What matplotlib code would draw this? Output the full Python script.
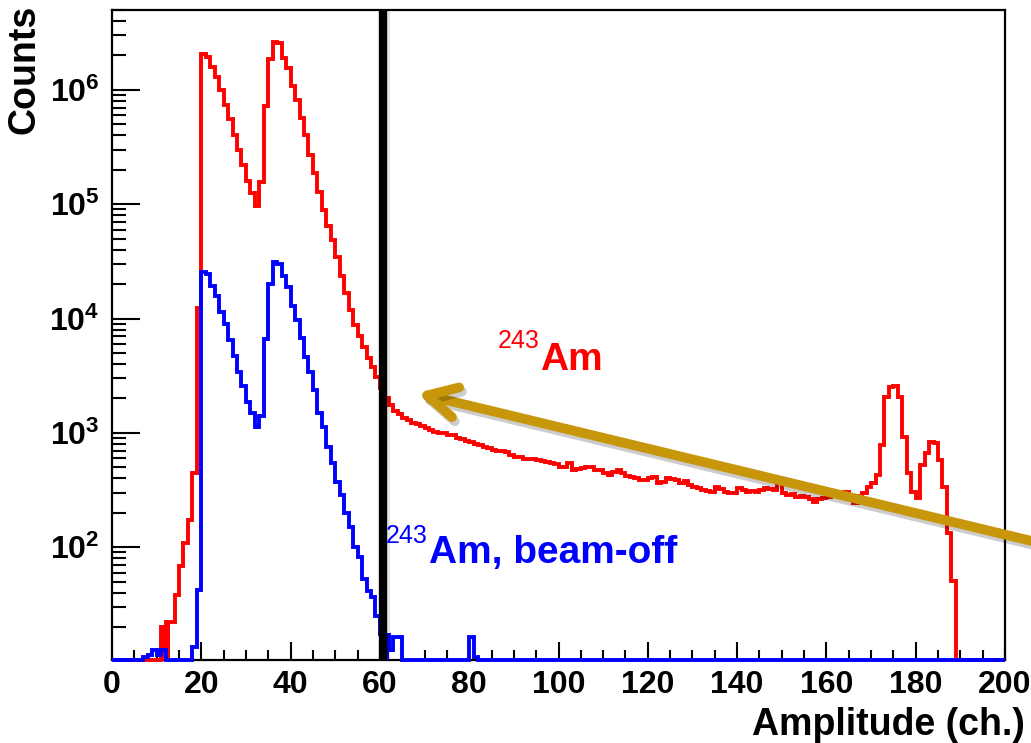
# Am-243 amplitude spectrum, beam-on vs beam-off, log scale

import matplotlib
matplotlib.use("Agg")
import matplotlib.pyplot as plt
import matplotlib.patheffects as pe
from matplotlib.ticker import MultipleLocator, LogLocator, FuncFormatter, NullFormatter
import numpy as np

plt.rcParams['font.family'] = ['Liberation Sans', 'DejaVu Sans']
plt.rcParams['font.weight'] = 'bold'
plt.rcParams['mathtext.fontset'] = 'custom'
plt.rcParams['mathtext.rm'] = 'Liberation Sans:bold'
plt.rcParams['mathtext.it'] = 'Liberation Sans:bold'
plt.rcParams['mathtext.bf'] = 'Liberation Sans:bold'

n_bins = 200
edges = np.arange(n_bins + 1)  # 1 channel per bin

# 243Am spectrum, channels 11..188
am_first = 11
am_counts = [
    20, 22, 22, 38, 69, 108, 172, 446, 12400,                       # 11-19
    2.05e6, 1.95e6, 1.6e6, 1.29e6, 1.0e6, 7.4e5, 5.6e5, 4.0e5, 3.0e5, 2.2e5,   # 20-29
    1.6e5, 1.25e5, 9.7e4, 1.57e5, 7.2e5, 1.88e6, 2.65e6, 2.55e6, 1.89e6, 1.55e6,  # 30-39
    1.08e6, 8.2e5, 5.65e5, 4.0e5, 2.7e5, 1.87e5, 1.29e5, 8.9e4, 6.4e4, 4.9e4,  # 40-49
    3.43e4, 2.36e4, 1.66e4, 1.19e4, 8.8e3, 7.1e3, 5.66e3, 4.5e3, 3.8e3, 3.1e3,  # 50-59
    2450, 2000, 1750, 1550, 1450, 1350, 1300, 1230, 1190, 1150,      # 60-69
    1100, 1060, 1020, 1000, 1000, 960, 950, 900, 890, 850,           # 70-79
    835, 800, 790, 755, 740, 706, 700, 690, 683, 640,                # 80-89
    617, 610, 590, 586, 590, 575, 570, 560, 540, 535,                # 90-99
    505, 505, 545, 472, 480, 490, 505, 500, 472, 470,                # 100-109
    445, 430, 455, 470, 445, 420, 412, 405, 385, 385,                # 110-119
    400, 412, 363, 375, 400, 395, 390, 363, 378, 350,                # 120-129
    337, 330, 315, 310, 305, 337, 320, 305, 300, 295,                # 130-139
    327, 315, 305, 310, 305, 315, 327, 320, 315, 361,                # 140-149
    300, 285, 290, 276, 280, 276, 265, 249, 263, 270,                # 150-159
    276, 280, 285, 295, 305, 270, 242, 280, 295, 337,                # 160-169
    361, 427, 782, 2070, 2500, 2570, 2070, 922, 441, 305,            # 170-179
    267, 523, 661, 835, 807, 577, 337, 132, 51,                      # 180-188
]
am_fill = [11, 12]

# beam-off spectrum, channels 7..81
off_first = 7
off_counts = [
    11, 11.5, 12.5, 11.5, 12.5, 0, 0, 0, 0, 0, 0, 13.4, 42,          # 7-19
    2.57e4, 2.47e4, 1.94e4, 1.58e4, 1.15e4, 9.0e3, 6.5e3, 4.7e3, 3.4e3, 2.55e3,  # 20-29
    1.85e3, 1.5e3, 1.13e3, 1.39e3, 6.6e3, 2.0e4, 3.15e4, 3.0e4, 2.35e4, 1.9e4,  # 30-39
    1.3e4, 9.7e3, 6.7e3, 4.6e3, 3.4e3, 2.37e3, 1.48e3, 1.13e3, 755, 540,  # 40-49
    373, 285, 197, 151, 101, 82, 53, 41, 37, 25,                     # 50-59
    17.5, 17, 12.5, 16.4, 16.4, 0, 0, 0, 0, 0,                       # 60-69
    0, 0, 0, 0, 0, 0, 0, 0, 0, 0,                                    # 70-79
    16.4, 11,                                                        # 80-81
]
off_fill = [60, 61]

cut_channel = 60.7
y_min, y_max = 10.3, 5e6


def full_spectrum(first, counts):
    h = np.zeros(n_bins)
    h[first:first + len(counts)] = counts
    return h


am = full_spectrum(am_first, am_counts)
off = full_spectrum(off_first, off_counts)

fig = plt.figure(figsize=(10.31, 7.43), dpi=100)
ax = fig.add_axes([112 / 1031, 1 - 660 / 743, (1005 - 112) / 1031, (660 - 10) / 743])

ax.set_yscale('log')
ax.set_xlim(0, 200)
ax.set_ylim(y_min, y_max)

lw = 2.8
ax.stairs(np.maximum(am, y_min), edges, baseline=None, color='#ff0000', lw=lw, clip_on=False, zorder=3)
for ch in am_fill:
    ax.stairs([am[ch]], edges[ch:ch + 2], baseline=y_min, fill=True, color='#ff0000', zorder=3)
ax.stairs(np.maximum(off, y_min), edges, baseline=None, color='#0000ff', lw=lw, clip_on=False, zorder=4)
for ch in off_fill:
    ax.stairs([off[ch]], edges[ch:ch + 2], baseline=y_min, fill=True, color='#0000ff', zorder=4)

ax.axvline(cut_channel, color='black', lw=6, zorder=5,
           path_effects=[pe.SimpleLineShadow(offset=(2.5, -1), alpha=0.1), pe.Normal()])

# axes styling
for s in ax.spines.values():
    s.set_linewidth(1.6)
ax.xaxis.set_major_locator(MultipleLocator(20))
ax.xaxis.set_minor_locator(MultipleLocator(5))
ax.yaxis.set_major_locator(LogLocator(base=10, numticks=12))
ax.yaxis.set_minor_locator(LogLocator(base=10, subs=np.arange(2, 10), numticks=12))
ax.yaxis.set_minor_formatter(NullFormatter())
ax.yaxis.set_major_formatter(FuncFormatter(lambda v, p: r'$10^{%d}$' % round(np.log10(v))))
ax.tick_params(axis='x', which='major', direction='in', length=13, width=1.5, labelsize=23, pad=7)
ax.tick_params(axis='x', which='minor', direction='in', length=7, width=1.5)
ax.tick_params(axis='y', which='major', direction='in', length=20, width=1.5, labelsize=23, pad=9)
ax.tick_params(axis='y', which='minor', direction='in', length=10, width=1.5)

fig.text(1025 / 1031, 1 - 735 / 743, 'Amplitude (ch.)', ha='right', va='baseline', fontsize=27, fontweight='bold')
fig.text(24 / 1031, 1 - 5 / 743, 'Counts', rotation=90, ha='center', va='top', fontsize=27, fontweight='bold')

# labels
ax.text(86.3, 5520, '243', color='#ff0000', fontsize=18, fontweight='normal', va='baseline')
ax.text(95.9, 3540, 'Am', color='#ff0000', fontsize=28, fontweight='bold', va='baseline')
ax.text(61.3, 108, '243', color='#0000ff', fontsize=18, fontweight='normal', va='baseline', zorder=6)
ax.text(70.9, 72.5, 'Am, beam-off', color='#0000ff', fontsize=28, fontweight='bold', va='baseline')

# arrow pointing at the cut
ax.annotate('', xy=(417, 743 - 393), xycoords='figure pixels',
            xytext=(1040, 743 - 543), textcoords='figure pixels',
            arrowprops=dict(arrowstyle='->,head_length=1.05,head_width=0.55', color='#c8960a',
                            lw=7, mutation_scale=20, shrinkA=0, shrinkB=0, capstyle='round',
                            path_effects=[pe.SimpleLineShadow(offset=(2, -3), alpha=0.2), pe.Normal()]),
            annotation_clip=False, zorder=7)

fig.savefig('out.png', dpi=100)
